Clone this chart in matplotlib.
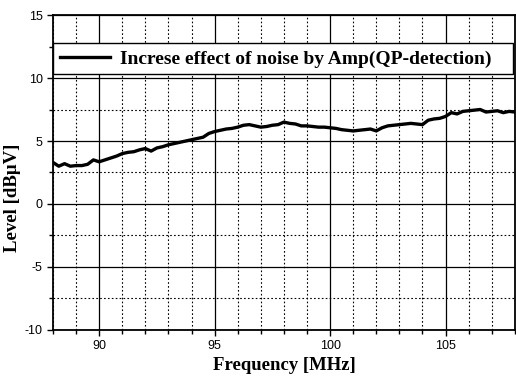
import matplotlib
matplotlib.use("Agg")
import matplotlib.pyplot as plt
from matplotlib.ticker import MultipleLocator

plt.rcParams["axes.unicode_minus"] = False

freq = [88.0, 88.25, 88.5, 88.75, 89.0, 89.25, 89.5, 89.75, 90.0, 90.25, 90.5, 90.75,
        91.0, 91.25, 91.5, 91.75, 92.0, 92.25, 92.5, 92.75, 93.0, 93.25, 93.5, 93.75,
        94.0, 94.25, 94.5, 94.75, 95.0, 95.25, 95.5, 95.75, 96.0, 96.25, 96.5, 96.75,
        97.0, 97.25, 97.5, 97.75, 98.0, 98.25, 98.5, 98.75, 99.0, 99.25, 99.5, 99.75,
        100.0, 100.25, 100.5, 100.75, 101.0, 101.25, 101.5, 101.75, 102.0, 102.25,
        102.5, 102.75, 103.0, 103.25, 103.5, 103.75, 104.0, 104.25, 104.5, 104.75,
        105.0, 105.25, 105.5, 105.75, 106.0, 106.25, 106.5, 106.75, 107.0, 107.25,
        107.5, 107.75, 108.0]
level = [3.3, 3.0, 3.2, 3.0, 3.05, 3.05, 3.15, 3.5, 3.35, 3.5, 3.65, 3.8,
         4.0, 4.1, 4.15, 4.3, 4.4, 4.2, 4.45, 4.55, 4.7, 4.8, 4.9, 5.0,
         5.1, 5.2, 5.3, 5.6, 5.75, 5.85, 5.95, 6.0, 6.1, 6.25, 6.3, 6.2,
         6.1, 6.15, 6.25, 6.3, 6.5, 6.4, 6.35, 6.2, 6.2, 6.15, 6.1, 6.1,
         6.05, 6.0, 5.9, 5.85, 5.8, 5.85, 5.9, 5.95, 5.8, 6.05,
         6.2, 6.25, 6.3, 6.35, 6.4, 6.35, 6.3, 6.65, 6.75, 6.8,
         6.95, 7.25, 7.15, 7.35, 7.4, 7.45, 7.5, 7.3, 7.35, 7.4,
         7.25, 7.35, 7.3]
series_label = "Increse effect of noise by Amp(QP-detection)"
xticks = [90, 95, 100, 105]
yticks = [-10, -5, 0, 5, 10, 15]

fig = plt.figure(figsize=(5.16, 3.81), dpi=100)
ax = fig.add_axes([0.1027, 0.1339, 0.895, 0.8267])

ax.plot(freq, level, color="black", lw=2.4, label=series_label, solid_joinstyle="round")
ax.set_xlim(88, 108)
ax.set_ylim(-10, 15)
ax.set_xticks(xticks)
ax.set_yticks(yticks)
ax.xaxis.set_minor_locator(MultipleLocator(1))
ax.yaxis.set_minor_locator(MultipleLocator(2.5))
ax.grid(which="major", color="black", lw=0.9, ls="-")
ax.grid(which="minor", color="black", lw=0.8, ls=(0, (1.5, 2)))
ax.set_axisbelow(True)
ax.tick_params(which="both", direction="out", color="black", width=1)
ax.tick_params(which="major", length=4, labelsize=9)
ax.tick_params(which="minor", length=3)
for lab in ax.get_xticklabels() + ax.get_yticklabels():
    lab.set_fontfamily("Liberation Sans")
for s in ax.spines.values():
    s.set_linewidth(1.3)

ax.set_xlabel("Frequency [MHz]", fontfamily="Liberation Serif", fontweight="bold", fontsize=13.5, labelpad=3)
ax.set_ylabel("Level [dB\u03bcV]", fontfamily="Liberation Serif", fontweight="bold", fontsize=13.5)
ax.yaxis.set_label_coords(-0.07, 0.42)

leg = ax.legend(loc="upper left", bbox_to_anchor=(0.0, 0.911, 0.995, 0.0), mode="expand",
                borderaxespad=0,
                prop={"family": "Liberation Serif", "weight": "bold", "size": 14},
                fancybox=False, framealpha=1, edgecolor="black", handlelength=2.6,
                borderpad=0.35, handletextpad=0.5)
leg.get_frame().set_linewidth(1.0)

fig.savefig("out.png", dpi=100)
